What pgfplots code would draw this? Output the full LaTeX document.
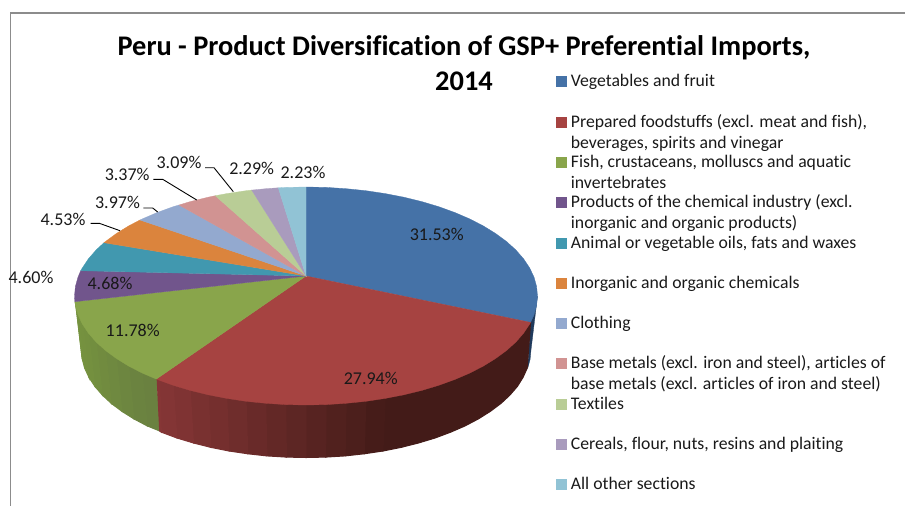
\documentclass[border=0pt]{standalone}
\usepackage{pgfplots}
\pgfplotsset{compat=1.18}
\usepackage{fontspec}
\setmainfont[Ligatures=NoCommon]{Carlito}
\definecolor{cA}{HTML}{4572A7}
\definecolor{cB}{HTML}{A64341}
\definecolor{cC}{HTML}{89A54B}
\definecolor{cD}{HTML}{71558C}
\definecolor{cE}{HTML}{4198AF}
\definecolor{cF}{HTML}{DB843D}
\definecolor{cG}{HTML}{93A9CF}
\definecolor{cH}{HTML}{D19392}
\definecolor{cI}{HTML}{B9CD96}
\definecolor{cJ}{HTML}{A99BBD}
\definecolor{cK}{HTML}{91C3D5}
\definecolor{wbD}{HTML}{431B18}
\definecolor{wbL}{HTML}{863636}
\definecolor{wgD}{HTML}{698040}
\definecolor{wgL}{HTML}{76933F}
\definecolor{waD}{HTML}{1F3A5C}
\newcommand{\poly}[2]{\addplot[fill=#1,draw=#1,line width=0.3pt] coordinates {#2} --cycle;}
\newcommand{\strip}[2]{\addplot[fill=#1,draw=#1,line width=1pt] coordinates {#2} --cycle;}
\newcommand{\lab}[3]{\node[anchor=center,inner sep=0pt,text=black!90] at (axis cs:#1,#2) {\fontsize{18}{20}\selectfont #3};}
\newcommand{\legmark}[2]{\addplot[only marks,mark=square*,mark size=5pt,color=#1] coordinates {(561,#2)};}
\newcommand{\legtxt}[2]{\node[anchor=base west,inner sep=0pt,text=black!90] at (axis cs:570.7,#1) {\fontsize{17.7}{20}\selectfont #2};}
\begin{document}
\begin{tikzpicture}
\begin{axis}[name=a,width=905pt,height=506pt,scale only axis,axis lines=none,
  xmin=0,xmax=905,ymin=0,ymax=506,y dir=reverse,enlargelimits=false]
% frame
\addplot[color=black!45,line width=1.2pt] coordinates {(10.3,506) (10.3,13) (905,13)};
% side walls
\poly{waD}{(530.6,322.4)(537.5,296)(531,350)(530.1,359.4)(527.6,368.7)}
\strip{wbD}{(530.6,322.4)(529.6,324.2)(523.5,333.3)(515.8,342.1)(506.5,350.5)(495.6,358.5)(483.3,366.1)(469.7,373.1)(454.8,379.5)(438.8,385.3)(421.8,390.4)(403.8,394.8)(385.2,398.4)(383,451.0)(401.1,447.4)(418.5,443.0)(435.1,438.0)(450.6,432.2)(465.1,425.9)(478.4,418.9)(490.3,411.4)(500.9,403.5)(509.9,395.1)(517.4,386.4)(523.0,377.5)(527.2,368.2)}
\strip{wbL!4!wbD}{(385.2,398.4)(365.9,401.3)(364.2,453.8)(383,451)}
\strip{wbL!13!wbD}{(365.9,401.3)(346.2,403.3)(345.1,455.9)(364.2,453.8)}
\strip{wbL!21!wbD}{(346.2,403.3)(326.2,404.6)(325.6,457.1)(345.1,455.9)}
\strip{wbL!30!wbD}{(326.2,404.6)(306,405)(306,457.5)(325.6,457.1)}
\strip{wbL!39!wbD}{(306,405)(285.8,404.6)(286.4,457.1)(306,457.5)}
\strip{wbL!48!wbD}{(285.8,404.6)(265.8,403.3)(266.9,455.9)(286.4,457.1)}
\strip{wbL!56!wbD}{(265.8,403.3)(246.1,401.3)(247.8,453.8)(266.9,455.9)}
\strip{wbL!65!wbD}{(246.1,401.3)(226.8,398.4)(229,451)(247.8,453.8)}
\strip{wbL!74!wbD}{(226.8,398.4)(208.2,394.8)(210.9,447.4)(229,451)}
\strip{wbL!81!wbD}{(208.2,394.8)(190.2,390.4)(193.5,443)(210.9,447.4)}
\strip{wbL!89!wbD}{(190.2,390.4)(173.2,385.3)(176.9,438)(193.5,443)}
\strip{wbL!96!wbD}{(173.2,385.3)(157.2,379.5)(161.4,432.2)(176.9,438)}
\strip{wgL!5!wgD}{(156.3,379.1)(142.3,373.1)(147.2,425.9)(159.7,431)}
\strip{wgL!15!wgD}{(142.3,373.1)(128.7,366.1)(133.9,418.9)(147.2,425.9)}
\strip{wgL!30!wgD}{(128.7,366.1)(116.4,358.5)(122,411.4)(133.9,418.9)}
\strip{wgL!45!wgD}{(116.4,358.5)(105.5,350.5)(111.4,403.5)(122,411.4)}
\strip{wgL!60!wgD}{(105.5,350.5)(96.2,342.1)(102.4,395.1)(111.4,403.5)}
\strip{wgL!72!wgD}{(96.2,342.1)(88.5,333.3)(94.9,386.4)(102.4,395.1)}
\strip{wgL!82!wgD}{(88.5,333.3)(82.9,324.2)(89,377.5)(94.9,386.4)}
\strip{wgL!90!wgD}{(82.9,324.2)(78.5,314.9)(84.7,368.2)(89,377.5)}
\strip{wgL!96!wgD}{(78.5,314.9)(75.9,305.5)(82.2,358.9)(84.7,368.2)}
\strip{wgL}{(75.9,305.5)(75.3,301.7)(81.5,350)(82.2,358.9)}
\strip{wbL}{(159.7,379.5)(157.2,379.5)(159.7,431)(161.4,432.2)}
% top face
\poly{cA}{(306,276)(306,187)(326.2,187.4)(346.2,188.7)(365.9,190.7)(385.2,193.6)(403.8,197.2)(421.8,201.6)(438.8,206.7)(454.8,212.5)(469.7,218.9)(483.3,225.9)(495.6,233.5)(506.5,241.5)(515.8,249.9)(523.5,258.7)(529.6,267.8)(534,277.1)(536.6,286.5)(537.5,296)(536.6,305.5)(534,314.9)(530.6,322.4)}
\poly{cB}{(306,276)(530.6,322.4)(529.6,324.2)(523.5,333.3)(515.8,342.1)(506.5,350.5)(495.6,358.5)(483.3,366.1)(469.7,373.1)(454.8,379.5)(438.8,385.3)(421.8,390.4)(403.8,394.8)(385.2,398.4)(365.9,401.3)(346.2,403.3)(326.2,404.6)(306,405)(285.8,404.6)(265.8,403.3)(246.1,401.3)(226.8,398.4)(208.2,394.8)(190.2,390.4)(173.2,385.3)(157.2,379.5)(156.3,379.1)}
\poly{cC}{(306,276)(156.3,379.1)(142.3,373.1)(128.7,366.1)(116.4,358.5)(105.5,350.5)(96.2,342.1)(88.5,333.3)(82.4,324.2)(78,314.9)(75.4,305.5)(74.8,301.7)}
\poly{cD}{(306,276)(74.8,301.7)(74.5,296)(75.4,286.5)(78,277.1)(80.7,270.7)}
\poly{cE}{(306,276)(80.7,270.7)(82.4,267.8)(88.5,258.7)(96.2,249.9)(104,242.7)}
\poly{cF}{(306,276)(104,242.7)(105.5,241.5)(116.4,233.5)(128.7,225.9)(140,220)}
\poly{cG}{(306,276)(140,220)(142.3,218.9)(157.2,212.5)(173.2,206.7)(179,205)}
\poly{cH}{(306,276)(179,205)(190.2,201.6)(208.2,197.2)(215.3,195.7)}
\poly{cI}{(306,276)(215.3,195.7)(226.8,193.6)(246.1,190.7)(251.7,190.1)}
\poly{cJ}{(306,276)(251.7,190.1)(265.8,188.7)(278.3,187.8)}
\poly{cK}{(306,276)(278.3,187.8)(285.8,187.4)(306,187)}
% leader lines
\addplot[black,line width=0.9pt] coordinates {(90.7,223.3)(99.3,223.3)(120,230.7)};
\addplot[black,line width=0.9pt] coordinates {(143.3,208)(152.7,208)(157.7,212)};
\addplot[black,line width=0.9pt] coordinates {(153.3,179.3)(162.7,179.3)(196.7,200)};
\addplot[black,line width=0.9pt] coordinates {(205,167.7)(214,167.7)(233.3,191.7)};
% legend markers
\legmark{cA}{81}\legmark{cB}{121.7}\legmark{cC}{161.7}\legmark{cD}{202.3}\legmark{cE}{242.7}
\legmark{cF}{282.7}\legmark{cG}{322.7}\legmark{cH}{362.7}\legmark{cI}{404}\legmark{cJ}{444}\legmark{cK}{484}
% percentages
\lab{436.7}{234}{31.53\%}
\lab{370.7}{378.3}{27.94\%}
\lab{132.7}{330.7}{11.78\%}
\lab{110}{283.3}{4.68\%}
\lab{31}{277}{4.60\%}
\lab{63}{219}{4.53\%}
\lab{117.5}{202.3}{3.97\%}
\lab{127.2}{174.3}{3.37\%}
\lab{179}{162.7}{3.09\%}
\lab{251.7}{168}{2.29\%}
\lab{303}{172}{2.23\%}
% legend text
\legtxt{86.5}{Vegetables and fruit}
\legtxt{127}{Prepared foodstuffs (excl. meat and fish),}
\legtxt{148.5}{beverages, spirits and vinegar}
\legtxt{167}{Fish, crustaceans, molluscs and aquatic}
\legtxt{188}{invertebrates}
\legtxt{207.5}{Products of the chemical industry (excl.}
\legtxt{228.5}{inorganic and organic products)}
\legtxt{248}{Animal or vegetable oils, fats and waxes}
\legtxt{288}{Inorganic and organic chemicals}
\legtxt{328}{Clothing}
\legtxt{368}{Base metals (excl. iron and steel), articles of}
\legtxt{389.5}{base metals (excl. articles of iron and steel)}
\legtxt{409.5}{Textiles}
\legtxt{449.5}{Cereals, flour, nuts, resins and plaiting}
\legtxt{489.5}{All other sections}
% title
\node[anchor=base,inner sep=0pt] at (axis cs:464,55) {\fontsize{28.4}{30}\selectfont\bfseries Peru - Product Diversification of GSP+ Preferential Imports,};
\node[anchor=base,inner sep=0pt] at (axis cs:464,90) {\fontsize{28.4}{30}\selectfont\bfseries 2014};
\end{axis}
\path (a.south west) rectangle (a.north east);
\end{tikzpicture}
\end{document}
